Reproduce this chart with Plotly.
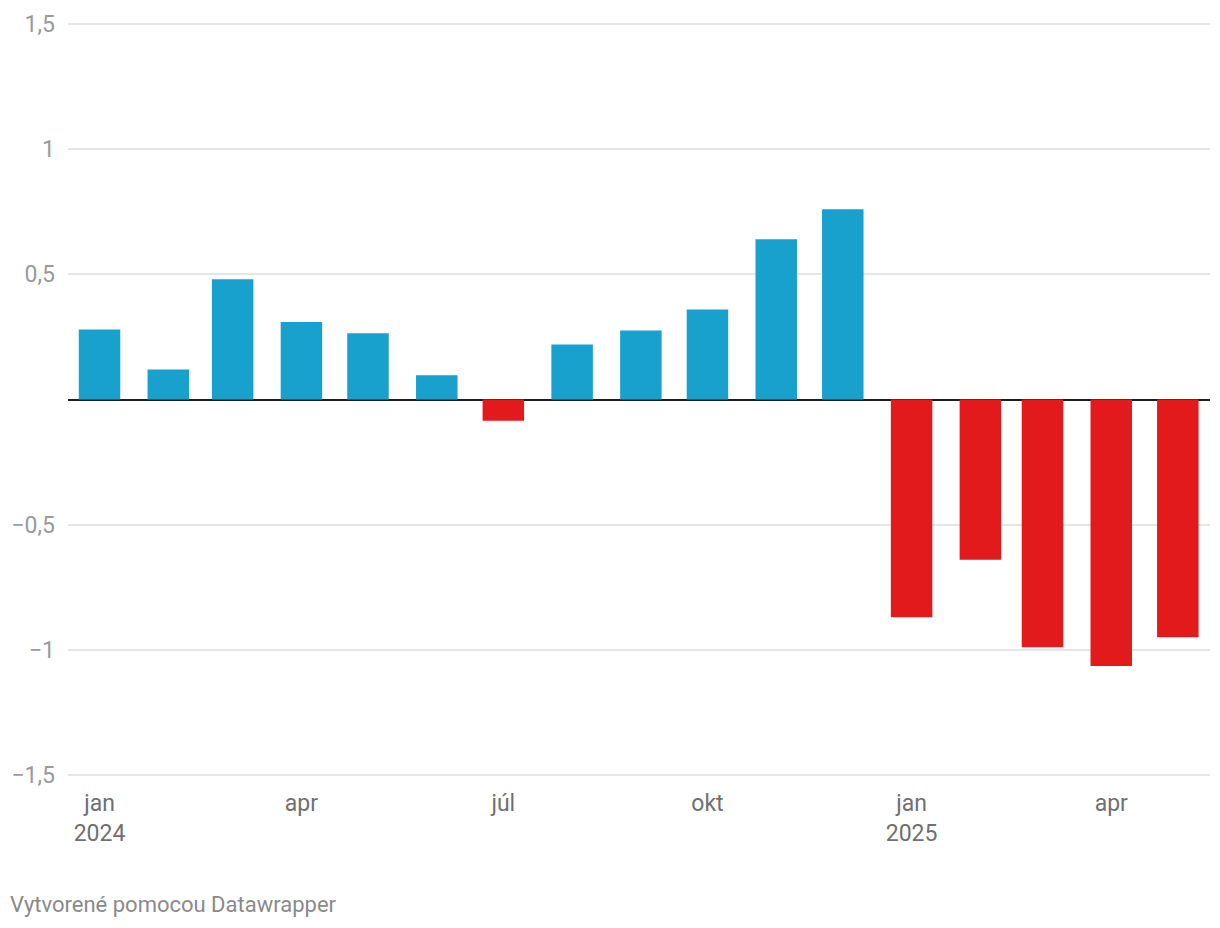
import plotly.graph_objects as go

months = ["2024-01-01", "2024-02-01", "2024-03-01", "2024-04-01", "2024-05-01", "2024-06-01",
          "2024-07-01", "2024-08-01", "2024-09-01", "2024-10-01", "2024-11-01", "2024-12-01",
          "2025-01-01", "2025-02-01", "2025-03-01", "2025-04-01", "2025-05-01"]
values = [0.28, 0.12, 0.48, 0.31, 0.265, 0.097, -0.085, 0.22, 0.276, 0.36, 0.64, 0.76,
          -0.87, -0.64, -0.99, -1.065, -0.95]

x_tick_vals = ["2024-01-01", "2024-04-01", "2024-07-01", "2024-10-01", "2025-01-01", "2025-04-01"]
x_tick_text = ["jan<br>2024", "apr", "júl", "okt", "jan<br>2025", "apr"]
y_tick_vals = [-1.5, -1, -0.5, 0, 0.5, 1, 1.5]
y_tick_text = ["−1,5", "−1", "−0,5", "", "0,5", "1", "1,5"]

BLUE = "#18a1cd"
RED = "#e31a1c"
colors = [BLUE if v >= 0 else RED for v in values]

DAY_MS = 86400000
fig = go.Figure(go.Bar(
    x=months, y=values, marker=dict(color=colors, line=dict(width=0)),
    width=18.7 * DAY_MS, hoverinfo="x+y",
))

W, H = 1220, 928
L, R, T, B = 68, 10, 22, 151
PW, PH = W - L - R, H - T - B

fig.update_layout(
    width=W, height=H,
    margin=dict(l=L, r=R, t=T, b=B),
    paper_bgcolor="white", plot_bgcolor="white",
    font=dict(family="Roboto", size=23, color="#999999"),
    showlegend=False,
    xaxis=dict(
        type="date",
        range=["2023-12-17 19:00", "2025-05-15 12:00"],
        tickmode="array", tickvals=x_tick_vals, ticktext=x_tick_text,
        showgrid=False, showline=False, zeroline=False,
        ticks="", tickfont=dict(size=23, color="#707070"),
        ticklabelstandoff=10,
    ),
    yaxis=dict(
        range=[-1.508, 1.508],
        tickmode="array", tickvals=y_tick_vals, ticktext=y_tick_text,
        showgrid=True, gridcolor="#e5e5e5", gridwidth=1.5,
        zeroline=True, zerolinecolor="#1d1d1d", zerolinewidth=2,
        showline=False, ticks="", tickfont=dict(size=23, color="#9a9a9a"),
        ticklabelstandoff=12,
    ),
    annotations=[dict(
        text="Vytvorené pomocou Datawrapper", xref="paper", yref="paper",
        x=(8 - L) / PW, y=-(904 - (T + PH)) / PH, xanchor="left", yanchor="middle",
        showarrow=False, font=dict(family="Roboto", size=22, color="#8a8a8a"),
    )],
)

fig.write_html("out.html", config={"displayModeBar": False},
               post_script="document.body.style.margin='0';")
